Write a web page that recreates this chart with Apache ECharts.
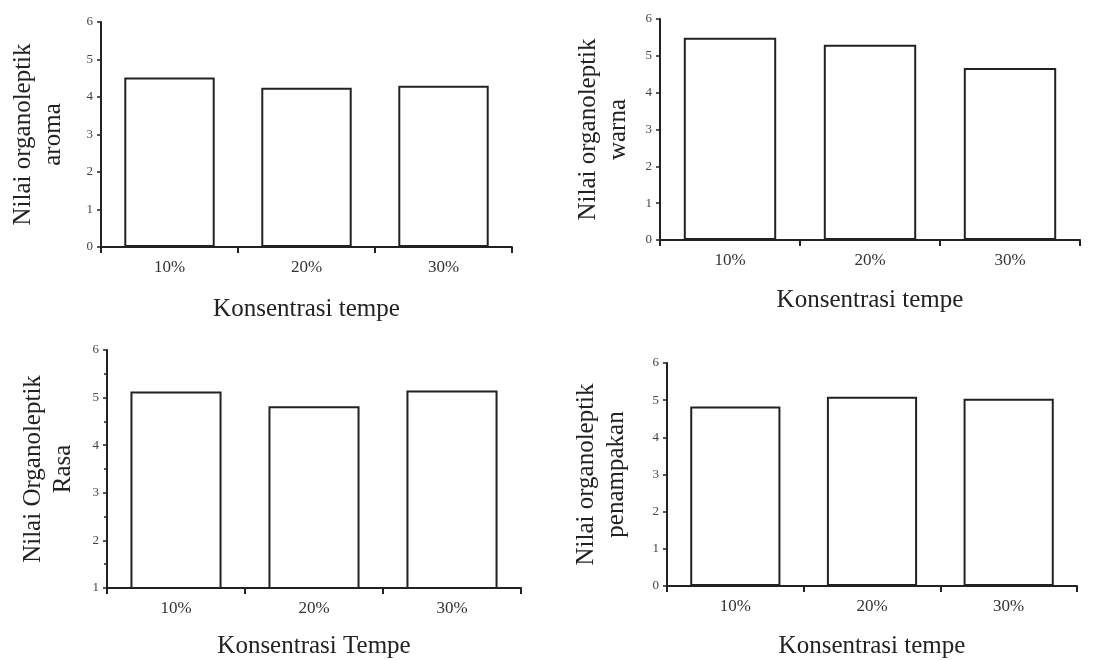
<!DOCTYPE html>
<html>
<head>
<meta charset="utf-8">
<script src="https://cdn.jsdelivr.net/npm/echarts@6/dist/echarts.min.js"></script>
<style>
html,body{margin:0;padding:0;background:#fff;}
#c{width:1093px;height:660px;}
</style>
</head>
<body>
<div id="c"></div>
<script>
const categories = ['10%', '20%', '30%'];
const aroma = [4.52, 4.25, 4.3];
const warna = [5.49, 5.3, 4.67];
const rasa = [5.13, 4.82, 5.15];
const penampakan = [4.83, 5.09, 5.04];

const yNames = ['Nilai organoleptik\naroma', 'Nilai organoleptik\nwarna', 'Nilai Organoleptik\nRasa', 'Nilai organoleptik\npenampakan'];
const xNames = ['Konsentrasi tempe', 'Konsentrasi tempe', 'Konsentrasi Tempe', 'Konsentrasi tempe'];
const yMins = [0, 0, 1, 0];
const seriesData = [aroma, warna, rasa, penampakan];

const font = 'Liberation Serif';
const grids = [
  {left: 101, top: 22, width: 411, height: 225},
  {left: 660, top: 19, width: 420, height: 221},
  {left: 107, top: 350, width: 414, height: 242},
  {left: 667, top: 363, width: 410, height: 224}
];
const yGaps = [33, 27, 29, 36];
const xGaps = [50, 48, 46, 48];

const chart = echarts.init(document.getElementById('c'));
chart.setOption({
  backgroundColor: '#fff',
  animation: false,
  grid: grids,
  xAxis: grids.map((g, i) => ({
    type: 'category',
    gridIndex: i,
    data: categories,
    name: xNames[i],
    nameLocation: 'middle',
    nameGap: xGaps[i],
    nameTextStyle: {fontFamily: font, fontSize: 25, color: '#222'},
    axisLine: {lineStyle: {color: '#222', width: 2}},
    axisTick: {show: true, length: 6, lineStyle: {color: '#222', width: 2}},
    axisLabel: {fontFamily: font, fontSize: 17, color: '#333', margin: 12},
    splitLine: {show: false}
  })),
  yAxis: grids.map((g, i) => ({
    type: 'value',
    gridIndex: i,
    min: yMins[i],
    max: 6,
    interval: 1,
    name: yNames[i],
    nameLocation: 'middle',
    nameRotate: 90,
    nameGap: yGaps[i],
    nameTextStyle: {fontFamily: font, fontSize: 25, color: '#222', lineHeight: 30},
    axisLine: {show: true, lineStyle: {color: '#222', width: 2}},
    axisTick: {show: true, length: 4, lineStyle: {color: '#222', width: 1.5}},
    minorTick: {show: i === 2, splitNumber: 2, length: 3, lineStyle: {color: '#222', width: 1.5}},
    axisLabel: {fontFamily: font, fontSize: 13, color: '#444', margin: 8},
    splitLine: {show: false}
  })),
  series: seriesData.map((d, i) => ({
    type: 'bar',
    xAxisIndex: i,
    yAxisIndex: i,
    data: d,
    barCategoryGap: '34%',
    itemStyle: {color: '#fff', borderColor: '#222', borderWidth: 2}
  }))
});
</script>
</body>
</html>
